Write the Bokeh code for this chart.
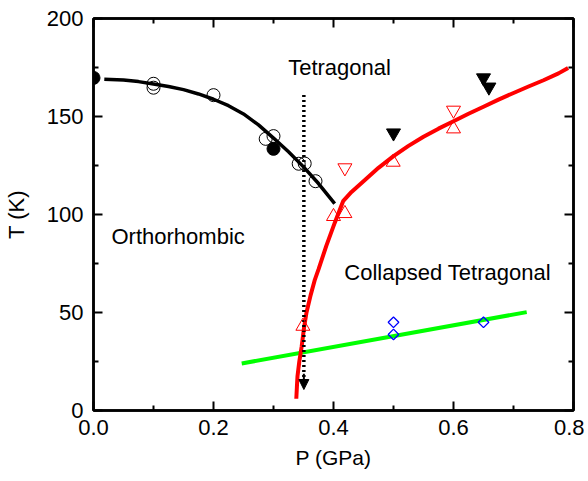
from bokeh.plotting import figure
from bokeh.models import (LinearAxis, FixedTicker, PrintfTickFormatter, Range1d, Arrow,
                          NormalHead, CustomJSTickFormatter)
from bokeh.core.properties import value
from bokeh.embed import file_html
from bokeh.resources import INLINE

# ---- data ----
ortho_curve_P = [0.018, 0.05, 0.075, 0.1, 0.125, 0.15, 0.175, 0.2, 0.225, 0.25,
                 0.275, 0.3, 0.325, 0.35, 0.375, 0.402]
ortho_curve_T = [169.0, 168.6, 167.8, 166.6, 165.3, 163.7, 161.5, 158.8, 155.5, 151.3,
                 145.7, 139.0, 132.0, 124.3, 115.8, 105.5]

open_circle_P = [0.1, 0.1, 0.2, 0.287, 0.3, 0.342, 0.352, 0.37]
open_circle_T = [166.7, 164.7, 160.9, 138.6, 140.0, 125.9, 126.0, 117.0]

filled_circle_P = [0.0, 0.3]
filled_circle_T = [169.7, 133.5]

ct_curve_P = [0.338, 0.339, 0.340, 0.343, 0.347, 0.351, 0.355, 0.362, 0.369, 0.375,
              0.388, 0.402, 0.416, 0.43, 0.45, 0.475, 0.5, 0.525, 0.55, 0.575, 0.6,
              0.625, 0.65, 0.675, 0.7, 0.725, 0.75, 0.775, 0.791]
ct_curve_T = [6.0, 12.0, 17.5, 25.0, 32.8, 42.5, 50.0, 59.0, 66.8, 72.0,
              84.0, 95.7, 106.8, 111.5, 117.0, 123.8, 129.8, 135.0, 139.7, 143.8, 147.6,
              151.4, 155.0, 158.6, 162.0, 165.3, 168.5, 172.0, 174.8]

up_tri_P = [0.349, 0.4, 0.419, 0.4995, 0.6]
up_tri_T = [43.0, 99.0, 100.5, 126.7, 143.7]

down_tri_P = [0.419, 0.6]
down_tri_T = [123.8, 153.2]

filled_down_P = [0.5, 0.65, 0.659]
filled_down_T = [141.6, 169.7, 165.0]

diamond_P = [0.5, 0.5, 0.65]
diamond_T = [45.0, 38.8, 45.0]

green_P = [0.247, 0.722]
green_T = [24.0, 50.2]

arrow_P = [0.3506, 0.3506]
arrow_T = [161.0, 10.7]

x_ticks = [0.0, 0.2, 0.4, 0.6, 0.8]
x_minor = [0.1, 0.3, 0.5, 0.7]
y_ticks = [0, 50, 100, 150, 200]
y_minor = [25, 75, 125, 175]

labels_text = ["Tetragonal", "Orthorhombic", "Collapsed Tetragonal"]
labels_P = [0.3245, 0.03, 0.418]
labels_T = [175.0, 88.6, 70.3]

FONT = "Liberation Sans"

p = figure(frame_width=480, frame_height=392, output_backend="svg", toolbar_location=None,
           x_range=Range1d(0, 0.8), y_range=Range1d(0, 200),
           min_border_left=84, min_border_right=11, min_border_top=18, min_border_bottom=60,
           x_axis_label="P (GPa)", y_axis_label="T (K)")
p.xgrid.visible = False
p.ygrid.visible = False
p.outline_line_color = "black"
p.outline_line_width = 2.5
p.background_fill_color = "white"
p.border_fill_color = "white"

def style_axis(ax, ticks, minor):
    ax.ticker = FixedTicker(ticks=ticks, minor_ticks=minor)
    ax.axis_line_width = 2.5
    ax.axis_line_color = "black"
    ax.major_tick_in = 9
    ax.major_tick_out = 0
    ax.minor_tick_in = 5
    ax.minor_tick_out = 0
    ax.major_tick_line_width = 2
    ax.minor_tick_line_width = 2
    ax.major_tick_line_color = "black"
    ax.minor_tick_line_color = "black"
    ax.major_label_text_font = FONT
    ax.major_label_text_font_size = "22px"
    ax.major_label_text_color = "black"
    ax.axis_label_text_font = FONT
    ax.axis_label_text_font_style = "normal"
    ax.axis_label_text_color = "black"

style_axis(p.xaxis[0], x_ticks, x_minor)
style_axis(p.yaxis[0], y_ticks, y_minor)
p.xaxis[0].formatter = PrintfTickFormatter(format="%.1f")
p.xaxis[0].major_label_standoff = 9
p.yaxis[0].major_label_standoff = 10
p.xaxis[0].axis_label_text_font_size = "21px"
p.yaxis[0].axis_label_text_font_size = "22px"
p.xaxis[0].axis_label_standoff = 8
p.yaxis[0].axis_label_standoff = 15

for loc in ("above", "right"):
    ax = LinearAxis(formatter=CustomJSTickFormatter(code="return ''"))
    style_axis(ax, x_ticks if loc == "above" else y_ticks, x_minor if loc == "above" else y_minor)
    ax.major_label_standoff = 0
    ax.major_label_text_font_size = "1px"
    p.add_layout(ax, loc)

# curves
p.line(ortho_curve_P, ortho_curve_T, line_color="black", line_width=3.5)
p.line(green_P, green_T, line_color="#00ff00", line_width=4)
p.line(ct_curve_P, ct_curve_T, line_color="red", line_width=4)

# dotted arrow
p.line(arrow_P, [arrow_T[0], arrow_T[1] + 6], line_color="black", line_width=3.5, line_dash="2 3")
p.add_layout(Arrow(x_start=arrow_P[0], y_start=arrow_T[1] + 8, x_end=arrow_P[1], y_end=arrow_T[1],
                   line_color="black", line_width=2,
                   end=NormalHead(size=10, fill_color="black", line_color="black", line_width=1)))

# markers
p.scatter(open_circle_P, open_circle_T, marker="circle", size=13, fill_color=None,
          line_color="black", line_width=1)
p.scatter(filled_circle_P, filled_circle_T, marker="circle", size=13, fill_color="black",
          line_color="black", line_width=1)
p.scatter(up_tri_P, up_tri_T, marker="triangle", size=14, fill_color=None,
          line_color="red", line_width=1)
p.scatter(down_tri_P, down_tri_T, marker="inverted_triangle", size=14, fill_color=None,
          line_color="red", line_width=1)
p.scatter(filled_down_P, filled_down_T, marker="inverted_triangle", size=14, fill_color="black",
          line_color="black", line_width=1)
p.scatter(diamond_P, diamond_T, marker="square", angle=0.785398, size=7.5, fill_color=None,
          line_color="blue", line_width=1.3)

p.text(labels_P, labels_T, text=labels_text, text_font=value(FONT), text_font_size="22px",
       text_color="black", text_baseline="alphabetic", text_align="left")

open("out.html", "w").write(file_html(p, INLINE))
